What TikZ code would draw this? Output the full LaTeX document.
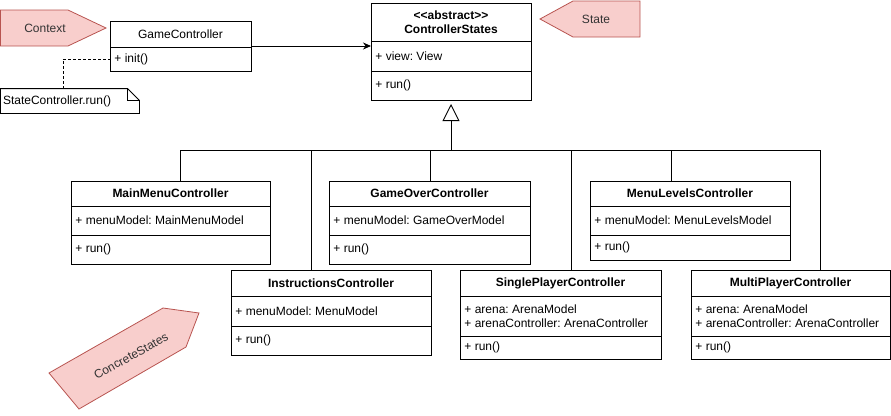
\documentclass[tikz,border=0pt]{standalone}
\usepackage{fontspec}
\setmainfont{Liberation Sans}
\usetikzlibrary{calc,arrows.meta}
\definecolor{pinkfill}{HTML}{F8CECC}
\definecolor{pinkline}{HTML}{B85450}
\definecolor{labelgrey}{HTML}{333333}
\def\umlfont{\fontsize{12}{14}\selectfont\frenchspacing}

% class box: name, top left, width, heights of the three parts, title, fields, methods
\newcommand{\umlclass}[9]{%
\node[classbox, minimum width=#3pt, minimum height={(#4+#5+#6)*1pt}, anchor=north west] (#1) at #2 {};
\draw ($(#1.north west)+(0,#4)$) -- ($(#1.north east)+(0,#4)$);
\draw ($(#1.north west)+(0,{#4+#5})$) -- ($(#1.north east)+(0,{#4+#5})$);
\node[classtitle] (#1-title) at ($(#1.north)+(0,{#4/2})$) {#7};
\node[member] (#1-attr) at ($(#1.north west)+(4,{#4+#5/2})$) {#8};
\node[member] (#1-ops) at ($(#1.north west)+(4,{#4+#5+#6/2})$) {#9};
}

\begin{document}
\begin{tikzpicture}[x=1pt,y=-1pt,line width=0.9pt,
  classbox/.style={draw, fill=white, inner sep=0pt, outer sep=0pt},
  classtitle/.style={font=\bfseries\umlfont, align=center, inner sep=0pt},
  member/.style={font=\umlfont, anchor=west, align=left, inner sep=0pt},
  callout/.style={draw=pinkline, fill=pinkfill, line width=0.8pt},
  calloutlabel/.style={font=\umlfont, text=labelgrey, inner sep=0pt}]
\useasboundingbox (0,0) rectangle (891,415);

% labels of the pattern
\draw[callout] (0.5,10) -- (68,10) -- (106,28) -- (68,46) -- (0.5,46) -- cycle;
\node[calloutlabel] (context) at (45,28) {Context};
\draw[callout] (540,19) -- (573,1) -- (640,1) -- (640,37) -- (573,37) -- cycle;
\node[calloutlabel] (state) at (596,19) {State};
\draw[callout] (49,373) -- (163,308) -- (199,313) -- (186,347) -- (79,409) -- cycle;
\node[calloutlabel, rotate=29] (concrete) at (131,356) {ConcreteStates};

% context
\node[classbox, minimum width=141pt, minimum height=50pt, anchor=north west] (gc) at (110,21) {};
\draw ($(gc.north west)+(0,26)$) -- ($(gc.north east)+(0,26)$);
\node[calloutlabel, text=black] (gc-title) at ($(gc.north)+(0,13)$) {GameController};
\node[member] (gc-ops) at ($(gc.north west)+(4,38)$) {+ init()};

% note
\node[minimum width=138pt, minimum height=24pt, inner sep=0pt] (note) at (70,101) {};
\begin{scope}[shift={(1.5,2)}]
\fill[black!30] (note.north west) -- ([xshift=-12pt]note.north east) -- ([yshift=-12pt]note.north east) -- (note.south east) -- (note.south west) -- cycle;
\end{scope}
\draw[fill=white] (note.north west) -- ([xshift=-12pt]note.north east) -- ([yshift=-12pt]note.north east) -- (note.south east) -- (note.south west) -- cycle;
\draw ([xshift=-12pt]note.north east) |- ([yshift=-12pt]note.north east);
\node[member] (note-text) at ([xshift=2pt]note.west) {StateController.run()};
\draw[dash pattern=on 3pt off 2pt] ([xshift=-7pt]note.north) |- ([yshift=-13pt]gc.west);

% states
\umlclass{cs}{(371,3)}{160}{38}{30}{29}{<{}<abstract>{}>\\ControllerStates}{+ view: View}{+ run()}
\umlclass{mainmenu}{(71,181)}{199}{25}{29}{29}{MainMenuController}{+ menuModel: MainMenuModel}{+ run()}
\umlclass{gameover}{(329,181)}{201}{25}{29}{29}{GameOverController}{+ menuModel: GameOverModel}{+ run()}
\umlclass{menulevels}{(590,181)}{200}{25}{29}{25}{MenuLevelsController}{+ menuModel: MenuLevelsModel}{+ run()}
\umlclass{instructions}{(231,270)}{200}{26}{30}{29}{InstructionsController}{+ menuModel: MenuModel}{+ run()}
\umlclass{singleplayer}{(460,270)}{201}{26}{40}{23}{SinglePlayerController}{+ arena: ArenaModel\\+ arenaController: ArenaController}{+ run()}
\umlclass{multiplayer}{(691,270)}{199}{26}{40}{23}{MultiPlayerController}{+ arena: ArenaModel\\+ arenaController: ArenaController}{+ run()}

% connectors
\draw[-{Stealth[length=8pt,width=7pt]}] (gc.east) -- (gc.east -| cs.west);
\coordinate (bus) at (451,150);
\draw[-{Triangle[open,length=17pt,width=17pt]}] (bus) -- ([yshift=-4pt]cs.south);
\foreach \target/\off in {mainmenu/10,instructions/-20,gameover/1,singleplayer/11,menulevels/-19,multiplayer/30}
  \draw (bus) -| ([xshift=\off pt]\target.north);
\end{tikzpicture}
\end{document}
